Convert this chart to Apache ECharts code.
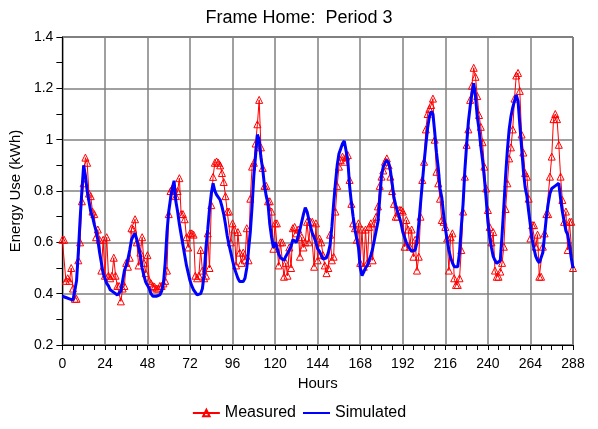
<!DOCTYPE html>
<html><head><meta charset="utf-8">
<script src="https://cdn.jsdelivr.net/npm/echarts@6/dist/echarts.min.js"></script>
<style>html,body{margin:0;padding:0;background:#fff}#c{width:598px;height:429px}</style>
</head><body><div id="c"></div>
<script>
var titleText = 'Frame Home:  Period 3';
var xTicks = [0,24,48,72,96,120,144,168,192,216,240,264,288];
var yTicks = [0.2,0.4,0.6,0.8,1,1.2,1.4];
var measured = [
0.61,0.61,0.45,0.46,0.45,0.50,0.42,0.38,0.38,0.53,0.60,0.76,0.83,0.93,0.91,0.79,0.78,0.72,0.71,0.62,
0.65,0.61,0.49,0.61,0.47,0.62,0.47,0.46,0.47,0.54,0.47,0.43,0.43,0.37,0.42,0.43,0.52,0.505,0.54,0.655,
0.65,0.69,0.60,0.51,0.56,0.62,0.52,0.48,0.55,0.45,0.44,0.43,0.427,0.42,0.42,0.43,0.43,0.44,0.45,0.49,
0.71,0.80,0.81,0.81,0.78,0.80,0.85,0.71,0.71,0.69,0.62,0.58,0.635,0.635,0.63,0.47,0.46,0.47,0.57,0.49,
0.46,0.47,0.635,0.50,0.745,0.855,0.91,0.915,0.91,0.90,0.87,0.835,0.78,0.72,0.72,0.60,0.674,0.65,0.51,0.64,
0.56,0.52,0.56,0.53,0.655,0.53,0.77,0.895,0.91,0.985,1.06,1.155,0.97,0.89,0.82,0.82,0.76,0.76,0.72,0.575,
0.674,0.674,0.51,0.60,0.60,0.466,0.52,0.47,0.58,0.50,0.655,0.66,0.635,0.65,0.544,0.62,0.58,0.60,0.68,0.60,
0.68,0.68,0.505,0.674,0.53,0.615,0.60,0.55,0.51,0.48,0.50,0.63,0.53,0.544,0.72,0.82,0.895,0.92,0.934,0.914,
0.934,0.94,0.843,0.75,0.674,0.655,0.61,0.674,0.52,0.65,0.505,0.65,0.52,0.66,0.674,0.53,0.674,0.70,0.74,0.82,
0.856,0.88,0.914,0.927,0.90,0.856,0.80,0.75,0.70,0.70,0.726,0.726,0.72,0.583,0.687,0.65,0.583,0.65,0.544,0.61,
0.49,0.544,0.70,0.843,0.914,1.04,1.10,1.12,1.135,1.16,1.00,0.875,0.83,0.77,0.687,0.68,0.66,0.615,0.49,0.62,
0.635,0.46,0.434,0.434,0.46,0.57,0.72,0.856,0.98,1.04,1.155,1.21,1.28,1.245,1.17,1.096,1.05,0.99,0.895,0.81,
0.726,0.66,0.60,0.64,0.49,0.466,0.466,0.486,0.52,0.583,0.73,0.83,0.927,0.97,1.04,1.16,1.25,1.26,1.19,1.02,
0.95,0.87,0.856,0.77,0.615,0.667,0.667,0.583,0.63,0.466,0.466,0.583,0.635,0.71,0.71,0.856,0.934,1.08,1.10,1.08,
0.98,0.856,0.765,0.68,0.72,0.57,0.68,0.68,0.50
];
var simulated = [
0.39,0.39,0.385,0.385,0.38,0.38,0.375,0.38,0.45,0.56,0.69,0.80,0.90,0.86,0.80,0.76,0.72,0.70,0.67,0.645,
0.61,0.56,0.52,0.48,0.46,0.44,0.43,0.415,0.41,0.405,0.40,0.395,0.39,0.41,0.45,0.49,0.51,0.535,0.57,0.61,
0.625,0.635,0.61,0.58,0.55,0.50,0.47,0.445,0.44,0.42,0.40,0.39,0.39,0.39,0.39,0.395,0.41,0.44,0.52,0.64,
0.72,0.77,0.81,0.84,0.76,0.72,0.67,0.63,0.59,0.55,0.51,0.48,0.45,0.43,0.415,0.405,0.395,0.395,0.40,0.42,
0.48,0.58,0.65,0.73,0.79,0.83,0.80,0.785,0.775,0.765,0.74,0.71,0.67,0.625,0.59,0.56,0.53,0.50,0.48,0.46,
0.447,0.445,0.447,0.46,0.50,0.57,0.64,0.74,0.86,0.94,1.02,1.00,0.93,0.885,0.82,0.78,0.75,0.67,0.62,0.58,
0.60,0.58,0.555,0.54,0.535,0.53,0.545,0.557,0.57,0.585,0.61,0.615,0.60,0.625,0.65,0.68,0.71,0.735,0.72,0.69,
0.66,0.635,0.62,0.60,0.575,0.565,0.55,0.535,0.53,0.54,0.56,0.59,0.66,0.75,0.83,0.90,0.945,0.965,0.985,0.995,
1.00,0.92,0.82,0.755,0.70,0.65,0.615,0.58,0.50,0.47,0.485,0.50,0.51,0.53,0.55,0.575,0.61,0.645,0.68,0.77,
0.86,0.895,0.91,0.92,0.91,0.88,0.83,0.775,0.745,0.72,0.70,0.675,0.64,0.62,0.60,0.585,0.575,0.565,0.563,0.57,
0.60,0.67,0.75,0.83,0.91,0.98,1.045,1.09,1.11,1.10,1.03,0.95,0.89,0.81,0.775,0.71,0.655,0.61,0.57,0.54,
0.52,0.505,0.50,0.505,0.56,0.66,0.75,0.88,0.98,1.07,1.13,1.18,1.22,1.17,1.09,1.04,0.975,0.92,0.85,0.77,
0.68,0.62,0.58,0.545,0.53,0.518,0.52,0.53,0.63,0.74,0.86,0.96,1.04,1.09,1.125,1.15,1.174,1.15,1.06,0.97,
0.88,0.815,0.78,0.72,0.665,0.61,0.575,0.545,0.53,0.52,0.525,0.56,0.63,0.70,0.75,0.79,0.81,0.817,0.82,0.825,
0.83,0.77,0.72,0.68,0.645,0.63,0.59,0.54,0.50
];
var measuredData = measured.map(function(v,i){return [i,v];});
var simulatedData = simulated.map(function(v,i){return [i,v];});
var font = 'Liberation Sans, Arial, sans-serif';
var chart = echarts.init(document.getElementById('c'));
chart.setOption({
  animation:false,
  backgroundColor:'#fff',
  title:{text:titleText,left:'center',top:4,textStyle:{fontFamily:font,fontSize:18,fontWeight:'normal',color:'#000'}},
  grid:{left:61,right:25,top:37,bottom:84,show:true,borderColor:'#000',borderWidth:1},
  legend:{top:400,left:'center',itemWidth:27,itemHeight:8,itemGap:6,
    textStyle:{fontFamily:font,fontSize:16,color:'#000'},
    data:[{name:'Measured'},{name:'Simulated',itemStyle:{opacity:0}}]},
  xAxis:{type:'value',min:xTicks[0],max:xTicks[xTicks.length-1],interval:24,
    name:'Hours',nameLocation:'middle',nameGap:31,nameTextStyle:{fontFamily:font,fontSize:15,color:'#000'},
    axisLine:{lineStyle:{color:'#000',width:1}},
    axisTick:{show:true,length:5,lineStyle:{color:'#000'}},
    minorTick:{show:true,splitNumber:4,length:5,lineStyle:{color:'#000'}},
    axisLabel:{fontFamily:font,fontSize:14,color:'#000',margin:12},
    splitLine:{show:true,lineStyle:{color:'#808080',width:1.5}}},
  yAxis:{type:'value',min:yTicks[0],max:yTicks[yTicks.length-1],interval:0.2,
    name:'Energy Use (kWh)',nameLocation:'middle',nameGap:33,nameTextStyle:{fontFamily:font,fontSize:15,color:'#000'},
    axisLine:{show:true,lineStyle:{color:'#000',width:1}},
    axisTick:{show:true,length:6,lineStyle:{color:'#000'}},
    minorTick:{show:true,splitNumber:2,length:6,lineStyle:{color:'#000'}},
    axisLabel:{fontFamily:font,fontSize:14,color:'#000',margin:9},
    splitLine:{show:true,lineStyle:{color:'#808080',width:1.5}}},
  series:[
    {name:'Measured',type:'line',data:measuredData,symbol:'triangle',symbolSize:7,showSymbol:true,
      lineStyle:{color:'#ff0000',width:1},itemStyle:{color:'rgba(255,255,255,0)',borderColor:'#ff0000',borderWidth:1},z:2},
    {name:'Simulated',type:'line',data:simulatedData,symbol:'none',showSymbol:false,
      lineStyle:{color:'#0000ff',width:3},itemStyle:{color:'#0000ff'},z:3}
  ]
});
</script></body></html>
